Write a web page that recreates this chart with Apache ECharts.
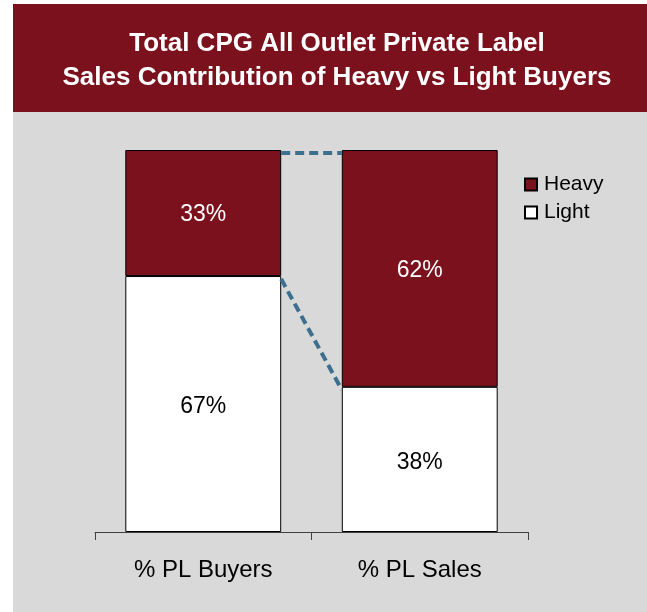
<!DOCTYPE html>
<html>
<head>
<meta charset="utf-8">
<script src="https://cdn.jsdelivr.net/npm/echarts@6/dist/echarts.min.js"></script>
<style>
  html, body { margin: 0; padding: 0; background: #fff; }
  #main { width: 647px; height: 612px; }
</style>
</head>
<body>
<div id="main"></div>
<script>
/*
* Stacked bars: heavy vs light private label buyers
*/
var categories = ['% PL Buyers', '% PL Sales'];
var heavy = [33, 62];
var light = [67, 38];

var RED = '#7a111d';
var FONT = '"Liberation Sans", Arial, sans-serif';

var myChart = echarts.init(document.getElementById('main'));

// dashed connectors: top of stacks and heavy/light split
var connectors = [
  [0, 1, heavy[0] + light[0], heavy[1] + light[1]],
  [0, 1, light[0], light[1]]
];

var option = {
  backgroundColor: '#fff',
  textStyle: { fontFamily: FONT },
  animation: false,
  graphic: [
    { type: 'rect', z: -10, shape: { x: 13, y: 112, width: 634, height: 500 }, style: { fill: '#d9d9d9' } },
    { type: 'rect', z: -10, shape: { x: 13, y: 4, width: 634, height: 108 }, style: { fill: RED } }
  ],
  title: {
    text: 'Total CPG All Outlet Private Label\nSales Contribution of Heavy vs Light Buyers',
    left: 332,
    top: 22,
    textAlign: 'center',
    textStyle: {
      color: '#fff',
      fontSize: 26,
      fontWeight: 'bold',
      fontFamily: FONT,
      lineHeight: 34
    }
  },
  legend: {
    data: ['Heavy', 'Light'],
    orient: 'vertical',
    left: 519,
    top: 169,
    icon: 'rect',
    itemWidth: 12,
    itemHeight: 12,
    itemGap: 7,
    textStyle: { fontSize: 21, color: '#000', fontFamily: FONT, padding: [0, 0, 0, 2] }
  },
  grid: { left: 95, right: 119, top: 150, bottom: 80 },
  xAxis: {
    type: 'category',
    data: categories,
    axisLine: { lineStyle: { color: '#404040', width: 1 } },
    axisTick: { show: true, length: 8, lineStyle: { color: '#404040' } },
    axisLabel: { fontSize: 24, color: '#000', margin: 26, fontFamily: FONT }
  },
  yAxis: {
    type: 'value',
    min: 0,
    max: 100,
    show: false,
    splitLine: { show: false }
  },
  series: [
    {
      name: 'Light',
      type: 'bar',
      stack: 'total',
      barWidth: '72%',
      data: light,
      itemStyle: { color: '#fff', borderColor: '#000', borderWidth: 1 },
      label: { show: true, position: 'inside', offset: [0, 3], formatter: '{c}%', color: '#000', fontSize: 23, fontFamily: FONT }
    },
    {
      name: 'Heavy',
      type: 'bar',
      stack: 'total',
      barWidth: '72%',
      data: heavy,
      itemStyle: { color: RED, borderColor: '#000', borderWidth: 1 },
      label: { show: true, position: 'inside', offset: [0, 2], formatter: '{c}%', color: '#fff', fontSize: 23, fontFamily: FONT }
    },
    {
      name: 'connector',
      type: 'custom',
      z: 5,
      silent: true,
      data: connectors,
      renderItem: function (params, api) {
        var p1 = api.coord([api.value(0), api.value(2)]);
        var p2 = api.coord([api.value(1), api.value(3)]);
        var half = api.size([1, 0])[0] * 0.72 / 2;
        return {
          type: 'line',
          shape: { x1: p1[0] + half, y1: p1[1] + 3, x2: p2[0] - half, y2: p2[1] + 3 },
          style: { stroke: '#3f6f8f', lineWidth: 4, lineDash: [9, 5], fill: null }
        };
      }
    }
  ]
};

option && myChart.setOption(option);
</script>
</body>
</html>
